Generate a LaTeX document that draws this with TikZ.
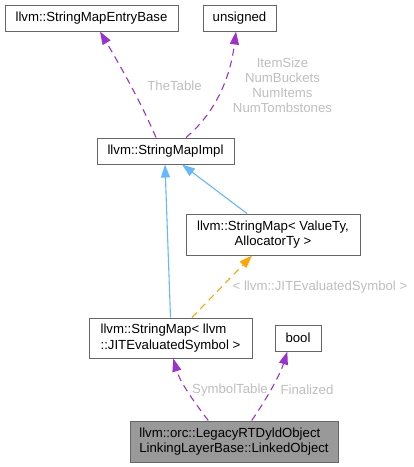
\documentclass[tikz,border=0pt]{standalone}
\usepackage{fontspec}
\setmainfont{Liberation Sans}
\usetikzlibrary{arrows.meta}
\definecolor{usepurple}{HTML}{9A32CD}
\definecolor{inhblue}{HTML}{63B8FF}
\definecolor{tmplorange}{HTML}{FFA500}
\definecolor{lblgray}{HTML}{BEBEBE}
\definecolor{boxline}{HTML}{666666}
\definecolor{boxfill}{HTML}{999999}
\tikzset{
  classbox/.style={draw=boxline, line width=1pt, inner sep=0pt, align=center,
    font=\fontsize{13.2}{15.2}\selectfont},
  usage/.style={usepurple, line width=1.1pt, dash pattern=on 7pt off 5pt,
    -{Triangle[length=13pt,width=9pt]}},
  inherit/.style={inhblue, line width=1.1pt, -{Triangle[length=13pt,width=9pt]}},
  tmpl/.style={tmplorange, line width=1.1pt, dash pattern=on 7pt off 5pt,
    -{Triangle[length=13pt,width=9pt]}},
  edgelabel/.style={lblgray, align=center, inner sep=0pt,
    font=\fontsize{13.2}{15}\selectfont},
}

\begin{document}
\begin{tikzpicture}[x=1pt, y=-1pt]
    \useasboundingbox (0,0) rectangle (414,467);
    % classes
    \node[classbox, minimum width=173pt, minimum height=26pt] (entrybase) at (91.5,18) {llvm::StringMapEntryBase};
    \node[classbox, minimum width=73pt, minimum height=26pt] (unsigned) at (239.5,18) {unsigned};
    \node[classbox, minimum width=137pt, minimum height=26pt] (impl) at (165.5,151) {llvm::StringMapImpl};
    \node[classbox, minimum width=174pt, minimum height=41pt] (valuemap) at (273,234.5) {llvm::StringMap< ValueTy,\\AllocatorTy >};
    \node[classbox, align=left, minimum width=163pt, minimum height=40pt] (jitmap) at (170.5,338) {llvm::StringMap< llvm\\::JITEvaluatedSymbol >};
    \node[classbox, minimum width=46pt, minimum height=26pt] (bool) at (298,338) {bool};
    \node[classbox, fill=boxfill, align=left, minimum width=208pt, minimum height=41pt] (linked) at (234,441.5) {llvm::orc::LegacyRTDyldObject\\LinkingLayerBase::LinkedObject};
    % members of StringMapImpl
    \draw[usage] ([xshift=-9.5pt]impl.north) .. controls (140,100) and (118,62) .. ([xshift=8.5pt]entrybase.south);
    \node[edgelabel] (thetable) at (174.5,86) {TheTable};
    \draw[usage] ([xshift=20.5pt]impl.north) .. controls (214,114) and (230,80) .. ([xshift=-3.5pt]unsigned.south);
    \node[edgelabel] (counts) at (282.5,85.5) {ItemSize\\NumBuckets\\NumItems\\NumTombstones};
    % inheritance
    \draw[inherit] (jitmap.north) -- ([xshift=-0.5pt]impl.south);
    \draw[inherit] ([xshift=-26pt]valuemap.north) -- ([xshift=16.5pt]impl.south);
    \draw[tmpl] ([xshift=21.5pt]jitmap.north) -- ([xshift=-21pt]valuemap.south);
    \node[edgelabel] (tmplargs) at (320,287) {< llvm::JITEvaluatedSymbol >};
    % members of LinkedObject
    \draw[usage] ([xshift=-25.7pt]linked.north) .. controls (194,402) and (180,382) .. ([xshift=2.8pt]jitmap.south);
    \node[edgelabel] (symtab) at (230,390) {SymbolTable};
    \draw[usage] ([xshift=17.7pt]linked.north) .. controls (266,400) and (280,375) .. ([xshift=-10.7pt]bool.south);
    \node[edgelabel] (finalized) at (307,390) {Finalized};
\end{tikzpicture}
\end{document}
